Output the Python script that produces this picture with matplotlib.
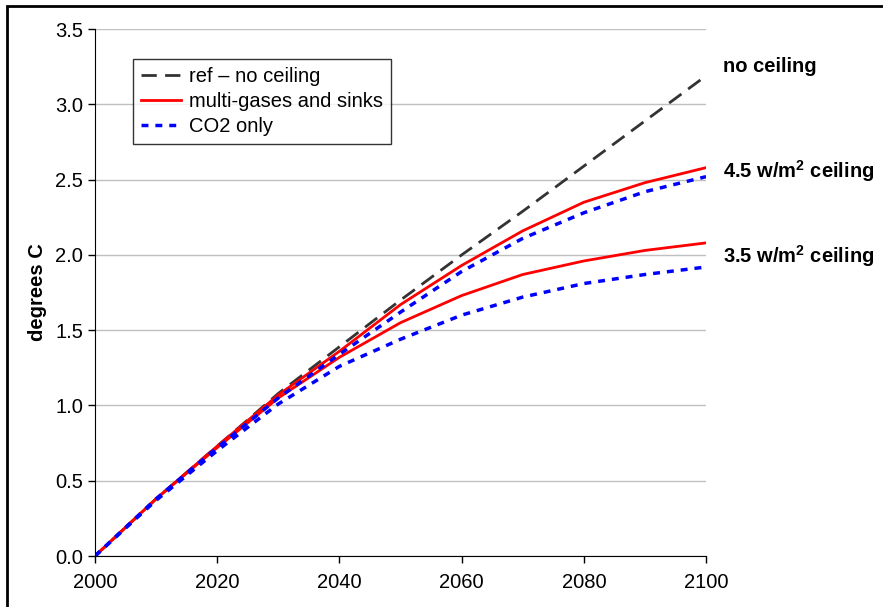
import matplotlib
matplotlib.use("Agg")
import matplotlib.pyplot as plt
from matplotlib.patches import Rectangle

plt.rcParams['font.family'] = ['Liberation Sans', 'DejaVu Sans']
plt.rcParams['mathtext.fontset'] = 'custom'
plt.rcParams['mathtext.rm'] = 'Liberation Sans'
plt.rcParams['mathtext.bf'] = 'Liberation Sans:bold'

years = [2000, 2010, 2020, 2030, 2040, 2050, 2060, 2070, 2080, 2090, 2100]
ref_no_ceiling = [0, 0.38, 0.73, 1.08, 1.39, 1.70, 2.00, 2.29, 2.59, 2.89, 3.19]
multi_45 = [0, 0.38, 0.73, 1.07, 1.36, 1.67, 1.93, 2.16, 2.35, 2.48, 2.58]
co2_45 = [0, 0.38, 0.72, 1.05, 1.34, 1.62, 1.89, 2.11, 2.28, 2.42, 2.52]
multi_35 = [0, 0.38, 0.72, 1.05, 1.32, 1.55, 1.73, 1.87, 1.96, 2.03, 2.08]
co2_35 = [0, 0.37, 0.70, 1.01, 1.26, 1.44, 1.60, 1.72, 1.81, 1.87, 1.92]

labels = ['no ceiling', r'4.5 w/m$^\mathbf{2}$ ceiling', r'3.5 w/m$^\mathbf{2}$ ceiling']
label_y = [3.25, 2.56, 1.99]

fs = 14.5

fig = plt.figure(figsize=(8.83, 6.07), dpi=100)
ax = fig.add_axes([0.1076, 0.084, 0.692, 0.868])

ax.plot(years, ref_no_ceiling, color='#333333', lw=2, dashes=(5.5, 3), label='ref – no ceiling')
ax.plot(years, multi_45, color='red', lw=2, label='multi-gases and sinks')
ax.plot(years, multi_35, color='red', lw=2)
ax.plot(years, co2_45, color='blue', lw=2.5, dashes=(2, 2), label='CO2 only')
ax.plot(years, co2_35, color='blue', lw=2.5, dashes=(2, 2))

ax.set_xlim(2000, 2100)
ax.set_ylim(0, 3.5)
ax.set_xticks(range(2000, 2101, 20))
ax.set_yticks([i * 0.5 for i in range(8)])
ax.yaxis.set_major_formatter(matplotlib.ticker.FormatStrFormatter('%.1f'))
ax.tick_params(labelsize=fs, length=5, width=1, color='black')
ax.tick_params(axis='x', pad=7)
ax.grid(axis='y', color='#c0c0c0', lw=1)
ax.set_axisbelow(True)
for s in ['top', 'right']:
    ax.spines[s].set_visible(False)
ax.set_ylabel('degrees C', fontsize=fs, fontweight='bold', labelpad=6)

for t, y in zip(labels, label_y):
    ax.text(2102.8, y, t, fontsize=fs, fontweight='bold', va='center', ha='left', clip_on=False)

leg = ax.legend(loc='upper left', bbox_to_anchor=(0.062, 0.944), fontsize=fs,
                frameon=True, fancybox=False, handlelength=2.0, borderpad=0.4,
                labelspacing=0.3, handletextpad=0.4, borderaxespad=0)
leg.get_frame().set_edgecolor('black')
leg.get_frame().set_linewidth(1)

# outer frame (top and left edges visible)
fig.patches.append(Rectangle((7 / 883, -0.1), 1.1, 1.1 - 5.5 / 607,
                             transform=fig.transFigure, fill=False, ec='black', lw=2))

fig.savefig('out.png', dpi=100)
